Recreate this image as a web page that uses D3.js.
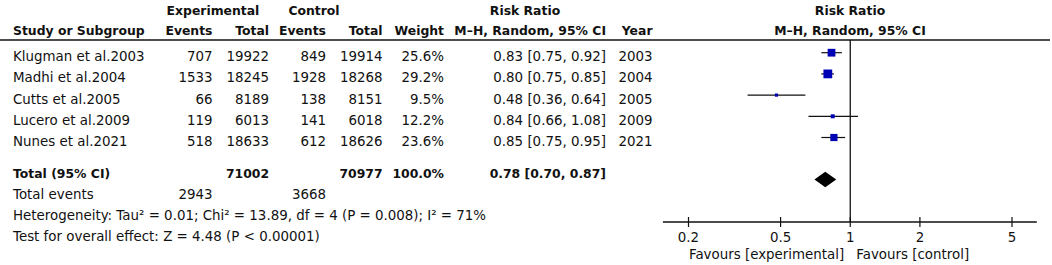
<!DOCTYPE html>
<html>
<head>
<meta charset="utf-8">
<script src="https://cdn.jsdelivr.net/npm/d3@7"></script>
<style>
  html, body { margin: 0; padding: 0; background: #fff; }
  svg text { font-family: "DejaVu Sans", sans-serif; fill: #111; }
</style>
</head>
<body>
<svg id="chart" width="1052" height="265"></svg>
<script>
// ---- data ----
const studies   = ["Klugman et al.2003", "Madhi et al.2004", "Cutts et al.2005", "Lucero et al.2009", "Nunes et al.2021"];
const expEvents = [707, 1533, 66, 119, 518];
const expTotal  = [19922, 18245, 8189, 6013, 18633];
const ctlEvents = [849, 1928, 138, 141, 612];
const ctlTotal  = [19914, 18268, 8151, 6018, 18626];
const weights   = [25.6, 29.2, 9.5, 12.2, 23.6];
const rr        = [0.83, 0.80, 0.48, 0.84, 0.85];
const rrLow     = [0.75, 0.75, 0.36, 0.66, 0.75];
const rrHigh    = [0.92, 0.85, 0.64, 1.08, 0.95];
const years     = [2003, 2004, 2005, 2009, 2021];
const pooled    = [0.78, 0.70, 0.87];        // estimate, lower, upper
const totalN    = [71002, 70977];            // experimental, control
const totalEv   = [2943, 3668];
const totalWeight = 100.0;
const axisTicks = [0.2, 0.5, 1, 2, 5];
const axisExtent = [0.155, 6.4];
const heterogeneity = "Heterogeneity: Tau\u00B2 = 0.01; Chi\u00B2 = 13.89, df = 4 (P = 0.008); I\u00B2 = 71%";
const overallTest = "Test for overall effect: Z = 4.48 (P < 0.00001)";
const favours = ["Favours [experimental]", "Favours [control]"];

// ---- setup ----
const svg = d3.select("#chart");
const f2 = d3.format(".2f");
const f1 = d3.format(".1f");
const REG = 13.4, BOLD = 12.4;
const blue = "#0000b4";

const x = d3.scaleLog().domain([0.2, 5]).range([688.5, 1012]);
const rowIdx = d3.range(studies.length);
const yMark = d3.scalePoint().domain(rowIdx).range([52.7, 137.5]);
const yText = i => yMark(i) + 8.5;
const size = d3.scaleLinear().domain([0, 30]).range([0.5, 9]);

// column right edges
const col = { expEv: 212.5, expTot: 269, ctlEv: 326, ctlTot: 382.5, weight: 444, ci: 606, year: 652.5 };

function txt(g, xx, yy, s, opts = {}) {
  return g.append("text")
    .attr("x", xx).attr("y", yy)
    .attr("text-anchor", opts.anchor || "start")
    .attr("font-size", opts.bold ? BOLD : REG)
    .attr("font-weight", opts.bold ? "bold" : "normal")
    .text(s);
}

// ---- header ----
const hdr = svg.append("g");
txt(hdr, 213, 15, "Experimental", { anchor: "middle", bold: true });
txt(hdr, 314, 15, "Control", { anchor: "middle", bold: true });
txt(hdr, 525, 14.5, "Risk Ratio", { anchor: "middle", bold: true });
txt(hdr, 850, 14.5, "Risk Ratio", { anchor: "middle", bold: true });
txt(hdr, 13, 35, "Study or Subgroup", { bold: true });
txt(hdr, col.expEv, 35, "Events", { anchor: "end", bold: true });
txt(hdr, col.expTot, 35, "Total", { anchor: "end", bold: true });
txt(hdr, col.ctlEv, 35, "Events", { anchor: "end", bold: true });
txt(hdr, col.ctlTot, 35, "Total", { anchor: "end", bold: true });
txt(hdr, col.weight, 35, "Weight", { anchor: "end", bold: true });
txt(hdr, col.ci, 35, "M\u2013H, Random, 95% CI", { anchor: "end", bold: true });
txt(hdr, col.year, 35, "Year", { anchor: "end", bold: true });
txt(hdr, 850, 35, "M\u2013H, Random, 95% CI", { anchor: "middle", bold: true });

svg.append("line").attr("x1", 0).attr("x2", 1050).attr("y1", 40).attr("y2", 40)
  .attr("stroke", "#111").attr("stroke-width", 1.6);

// ---- study rows ----
const rows = svg.append("g");
rowIdx.forEach(i => {
  const yy = yText(i);
  txt(rows, 13, yy, studies[i]);
  txt(rows, col.expEv, yy, expEvents[i], { anchor: "end" });
  txt(rows, col.expTot, yy, expTotal[i], { anchor: "end" });
  txt(rows, col.ctlEv, yy, ctlEvents[i], { anchor: "end" });
  txt(rows, col.ctlTot, yy, ctlTotal[i], { anchor: "end" });
  txt(rows, col.weight, yy, f1(weights[i]) + "%", { anchor: "end" });
  txt(rows, col.ci, yy, `${f2(rr[i])} [${f2(rrLow[i])}, ${f2(rrHigh[i])}]`, { anchor: "end" });
  txt(rows, col.year, yy, years[i], { anchor: "end" });
});

// ---- total rows ----
const yTot = 178;
txt(rows, 13, yTot, "Total (95% CI)", { bold: true });
txt(rows, col.expTot, yTot, totalN[0], { anchor: "end", bold: true });
txt(rows, col.ctlTot, yTot, totalN[1], { anchor: "end", bold: true });
txt(rows, col.weight, yTot, f1(totalWeight) + "%", { anchor: "end", bold: true });
txt(rows, col.ci, yTot, `${f2(pooled[0])} [${f2(pooled[1])}, ${f2(pooled[2])}]`, { anchor: "end", bold: true });
txt(rows, 13, 198.5, "Total events");
txt(rows, col.expEv, 198.5, totalEv[0], { anchor: "end" });
txt(rows, col.ctlEv, 198.5, totalEv[1], { anchor: "end" });
txt(rows, 13, 219.5, heterogeneity);
txt(rows, 13, 240.5, overallTest);

// ---- forest plot ----
const plot = svg.append("g");
const yAxis = 222;

// line of no effect
plot.append("line").attr("x1", x(1)).attr("x2", x(1)).attr("y1", 40).attr("y2", yAxis)
  .attr("stroke", "#111").attr("stroke-width", 1.3);

// CI whiskers
plot.selectAll("line.ci").data(rowIdx).join("line").attr("class", "ci")
  .attr("x1", i => x(rrLow[i])).attr("x2", i => x(rrHigh[i]))
  .attr("y1", i => yMark(i)).attr("y2", i => yMark(i))
  .attr("stroke", "#111").attr("stroke-width", 1.2);

// squares
plot.selectAll("rect.pt").data(rowIdx).join("rect").attr("class", "pt")
  .attr("x", i => x(rr[i]) - size(weights[i]) / 2)
  .attr("y", i => yMark(i) - size(weights[i]) / 2)
  .attr("width", i => size(weights[i]))
  .attr("height", i => size(weights[i]))
  .attr("fill", blue);

// diamond
const yDia = 179.5, hDia = 7.8;
plot.append("path")
  .attr("d", `M${x(pooled[1])},${yDia} L${x(pooled[0])},${yDia - hDia} L${x(pooled[2])},${yDia} L${x(pooled[0])},${yDia + hDia} Z`)
  .attr("fill", "#000");

// axis
const ax = plot.append("g").attr("transform", `translate(0,${yAxis})`);
ax.append("line").attr("x1", x(axisExtent[0])).attr("x2", x(axisExtent[1]))
  .attr("stroke", "#111").attr("stroke-width", 1.3);
ax.selectAll("line.tk").data(axisTicks).join("line").attr("class", "tk")
  .attr("x1", d => x(d)).attr("x2", d => x(d)).attr("y1", -5).attr("y2", 5)
  .attr("stroke", "#111").attr("stroke-width", 1.2);
ax.selectAll("text.tl").data(axisTicks).join("text").attr("class", "tl")
  .attr("x", d => x(d)).attr("y", 19.5)
  .attr("text-anchor", "middle").attr("font-size", REG)
  .text(d => d3.format("")(d));

txt(plot, x(1) - 6, 259, favours[0], { anchor: "end" });
txt(plot, x(1) + 6, 259, favours[1]);
</script>
</body>
</html>
